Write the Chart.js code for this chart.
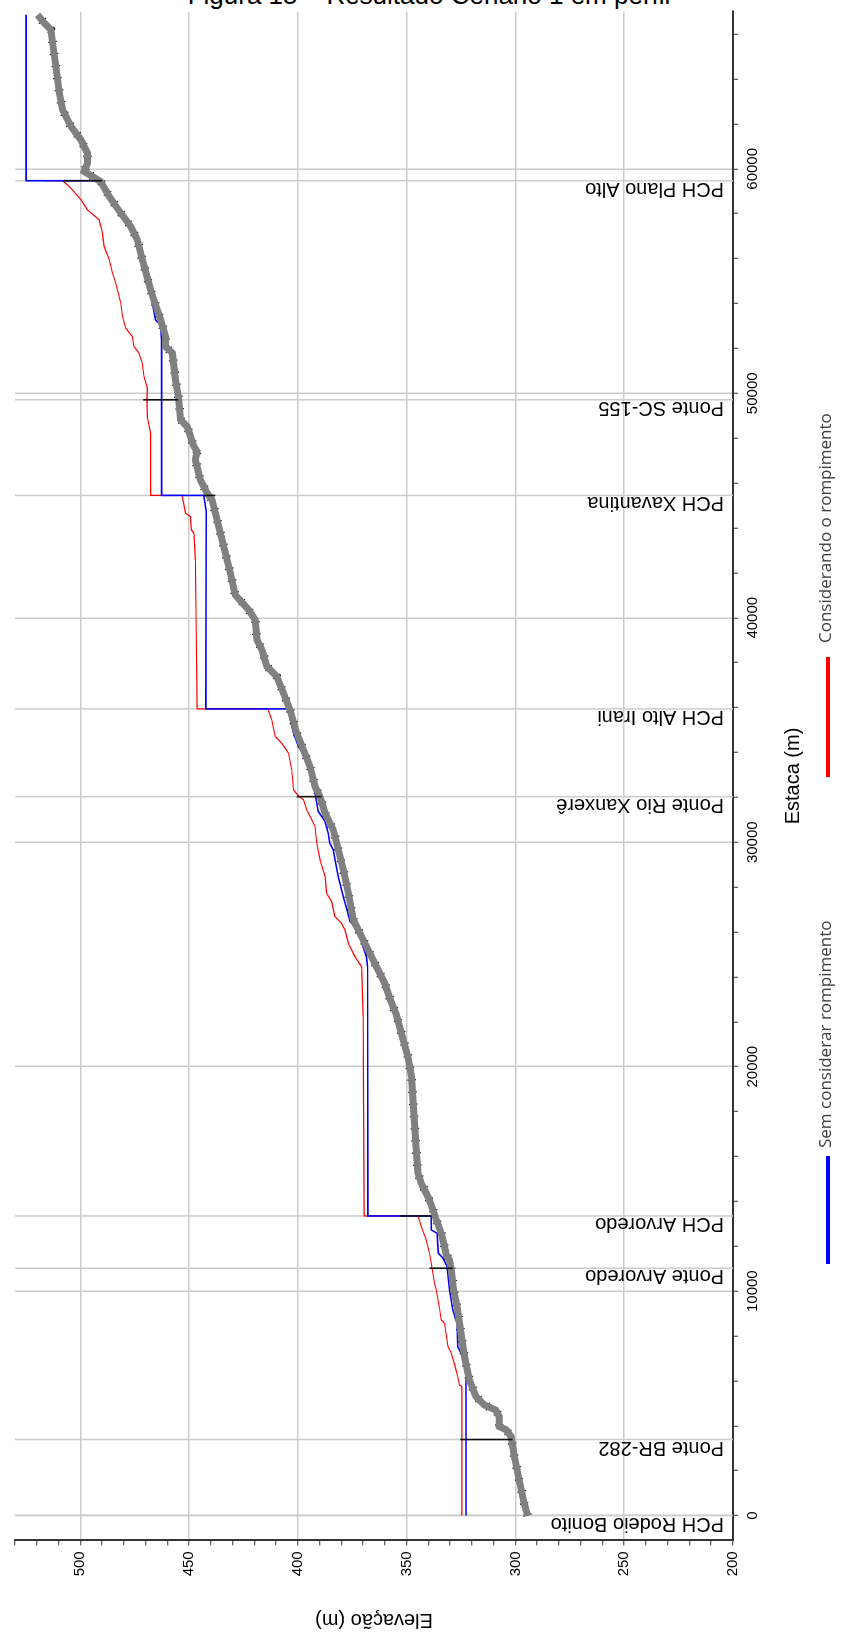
<!DOCTYPE html>
<html lang="pt-BR">
<head>
<meta charset="utf-8">
<title>Resultado Cenário 1 em perfil</title>
<script src="https://cdn.jsdelivr.net/npm/chart.js@4.4.1/dist/chart.umd.min.js"></script>
<style>
  html, body { margin: 0; padding: 0; background: #fff; }
  body { width: 841px; height: 1633px; overflow: hidden; position: relative; }
  #legenda-figura { position: absolute; left: 0; top: -18px; width: 858px; text-align: center;
    font: 26px/26px "Liberation Sans", Arial, sans-serif; color: #000; white-space: nowrap; }
  #perfil { position: absolute; left: 0; top: 0; width: 1633px; height: 841px;
    transform-origin: 0 0; transform: translateY(1633px) rotate(-90deg); }
  #perfil canvas { position: absolute; left: 0; top: 0; }
  .leg-linha { position: absolute; top: 826px; height: 4px; }
  .leg-texto { position: absolute; top: 815px; font: 17px/20px "Open Sans", sans-serif; color: #404040; white-space: nowrap; }
</style>
</head>
<body>
<div id="legenda-figura">Figura 15 – Resultado Cenário 1 em perfil</div>
<div id="perfil">
  <canvas id="grafico" width="1633" height="841"></canvas>
  <div class="leg-linha" style="left:369px;width:108px;background:#0000ff"></div>
  <div class="leg-texto" style="left:485px">Sem considerar rompimento</div>
  <div class="leg-linha" style="left:856px;width:120px;background:#ff0000"></div>
  <div class="leg-texto" style="left:990px">Considerando o rompimento</div>
</div>
<script>
// marcas do eixo de estacas (rotulo so nos multiplos de 10000)
const estacaTicks = [0, 2000, 4000, 6000, 8000, 10000, 12000, 14000, 16000, 18000, 20000, 22000, 24000, 26000,
  28000, 30000, 32000, 34000, 36000, 38000, 40000, 42000, 44000, 46000, 48000, 50000, 52000, 54000, 56000,
  58000, 60000, 62000, 64000, 66000];

// terreno (fundo do rio)
const terrenoEstaca = [0, 550, 1590, 2630, 3520, 3820, 3970, 4410, 4700, 4830, 4930, 5300, 6050, 7080, 8570, 9310,
  10060, 10950, 11390, 11620, 11990, 12580, 13180, 13620, 14210, 14810, 15260, 16290, 17330, 18520, 19560, 20450,
  21490, 22310, 22900, 23720, 24460, 25200, 25950, 26540, 27730, 28770, 29660, 30550, 31290, 32030, 32480, 33370,
  34110, 34860, 35900, 36640, 37380, 37830, 38570, 39020, 39910, 40350, 41020, 41990, 43460, 44660, 45250, 45550,
  46140, 47040, 47410, 47630, 48520, 48820, 49710, 50600, 51790, 52080, 52530, 53270, 54610, 55950, 56840, 57430,
  58030, 58770, 59430, 59660, 59880, 60250, 60700, 61290, 61890, 62630, 63370, 64560, 65600, 66190, 66490, 66860];
const terrenoElev = [294.4, 296.0, 298.3, 300.5, 302.0, 304.3, 307.4, 307.4, 309.0, 312.0, 314.3, 318.1, 321.2, 323.4, 325.7, 326.8,
  328.4, 329.5, 330.3, 331.8, 332.6, 334.1, 336.4, 337.9, 340.2, 343.3, 344.8, 345.6, 346.3, 347.1, 347.8, 349.4,
  352.4, 354.7, 357.2, 360.1, 363.9, 367.7, 371.5, 374.5, 376.8, 379.1, 381.4, 383.7, 387.5, 389.8, 392.1, 394.4,
  397.4, 400.5, 403.6, 406.6, 409.7, 414.2, 416.5, 418.8, 419.6, 422.6, 428.8, 431.0, 434.8, 437.9, 439.4, 441.7,
  444.8, 447.1, 446.3, 447.8, 450.9, 453.9, 454.7, 456.2, 457.7, 460.8, 460.8, 463.1, 467.7, 471.5, 473.8, 476.8,
  481.4, 486.7, 490.6, 494.4, 498.2, 496.7, 496.7, 499.7, 504.3, 508.1, 509.6, 511.2, 512.7, 513.5, 516.5, 519.6];

// nivel d'agua sem considerar rompimento
const semEstaca = [0, 6340, 7080, 7530, 8570, 9170, 10060, 11090, 11470, 11690, 12580, 12730, 13350, 13350, 24460,
  24910, 25800, 26540, 27580, 28470, 29290, 29660, 29960, 30400, 30920, 31370, 32180, 33220, 33820, 34260, 34860,
  35940, 35940, 44730, 45450, 45450, 52380, 53050, 53270, 54460, 55350, 56240, 57140, 57580, 58030, 58620, 59470,
  59470, 66860];
const semElev = [322.7, 322.7, 324.2, 326.5, 326.8, 328.8, 330.3, 331.4, 333.3, 335.4, 336.0, 338.7, 338.7, 367.8, 368.0,
  368.5, 371.5, 376.1, 379.1, 381.4, 383.0, 383.7, 385.3, 386.0, 387.5, 390.6, 392.1, 394.4, 396.7, 399.7, 402.0,
  404.6, 442.3, 442.1, 443.2, 462.6, 462.6, 463.1, 465.4, 467.7, 470.0, 472.3, 474.5, 477.6, 480.6, 485.2, 489.8,
  524.9, 524.9];

// nivel d'agua considerando o rompimento
const comEstaca = [0, 5750, 5820, 6190, 6640, 7240, 7530, 8570, 8720, 9240, 10060, 10350, 11250, 11690, 12280, 12880,
  13350, 13350, 22230, 24460, 24910, 25500, 26100, 26390, 26690, 27360, 27730, 28470, 29210, 29960, 30700, 31000,
  31440, 31890, 32060, 32330, 33220, 33970, 34410, 34710, 35450, 35940, 35940, 40210, 42580, 43770, 43920, 44510,
  44660, 45450, 45450, 48220, 48960, 49710, 50230, 50750, 51340, 51790, 52080, 52530, 52900, 53420, 54020, 54910,
  55350, 55950, 56540, 57140, 57730, 58170, 58620, 59140, 59470, 59470];
const comElev = [324.6, 324.6, 325.7, 326.5, 327.7, 329.5, 331.0, 332.6, 334.1, 334.9, 336.4, 337.2, 338.7, 339.5, 341.0, 343.3,
  344.8, 369.5, 370.0, 370.7, 373.8, 376.8, 378.4, 379.9, 383.0, 384.5, 386.8, 387.5, 389.8, 391.3, 392.1, 393.6,
  395.9, 397.4, 399.7, 402.0, 402.8, 404.3, 407.4, 410.4, 412.0, 413.8, 446.3, 446.8, 447.1, 447.8, 448.9, 449.4,
  451.6, 453.2, 467.7, 467.7, 469.2, 469.4, 469.2, 470.7, 471.5, 473.0, 475.3, 476.1, 479.1, 480.6, 481.4, 483.7,
  485.2, 486.7, 489.0, 489.8, 491.3, 496.7, 499.7, 504.3, 508.1, 516.5];

// estruturas (pontes e barragens)
const estruturaNome = ['PCH Rodeio Bonito', 'Ponte BR-282', 'Ponte Arvoredo', 'PCH Arvoredo', 'Ponte Rio Xanxerê',
  'PCH Alto Irani', 'PCH Xavantina', 'Ponte SC-155', 'PCH Plano Alto'];
const estruturaEstaca = [0, 3390, 11020, 13350, 32030, 35940, 45450, 49710, 59470];

// trechos pretos das estruturas
const obraEstaca = [3390, 11020, 13350, 32030, 45450, 49710, 59470];
const obraBase = [301.3, 328.8, 338.7, 389.0, 438.0, 455.0, 490.0];
const obraTopo = [325.4, 339.5, 353.0, 400.5, 443.5, 471.0, 508.0];

const fonte = '"Liberation Sans", Arial, sans-serif';
const cinzaGrade = '#cccccc';

function pares(xs, ys) {
  return xs.map((x, i) => ({ x: x, y: ys[i] }));
}

const obras = [];
obraEstaca.forEach((e, i) => {
  obras.push({ x: e, y: obraBase[i] }, { x: e, y: obraTopo[i] }, { x: e, y: null });
});

const estruturas = {
  id: 'estruturas',
  beforeDatasetsDraw(chart) {
    const { ctx, chartArea, scales: { x } } = chart;
    ctx.save();
    ctx.strokeStyle = cinzaGrade;
    ctx.lineWidth = 1.5;
    estruturaEstaca.forEach(e => {
      const px = x.getPixelForValue(e);
      ctx.beginPath();
      ctx.moveTo(px, chartArea.top);
      ctx.lineTo(px, chartArea.bottom);
      ctx.stroke();
    });
    ctx.fillStyle = '#000';
    ctx.font = '20px ' + fonte;
    ctx.textAlign = 'left';
    ctx.textBaseline = 'alphabetic';
    estruturaEstaca.forEach((e, i) => {
      const px = x.getPixelForValue(e);
      ctx.save();
      ctx.translate(px - 2, chartArea.bottom - 9);
      ctx.rotate(-Math.PI / 2);
      ctx.fillText(estruturaNome[i], 0, 0);
      ctx.restore();
    });
    ctx.restore();
  }
};

new Chart(document.getElementById('grafico'), {
  type: 'scatter',
  data: {
    datasets: [
      { label: 'Considerando o rompimento', data: pares(comEstaca, comElev), showLine: true,
        borderColor: '#ff0000', borderWidth: 1.2, order: 8 },
      { label: 'Sem considerar rompimento', data: pares(semEstaca, semElev), showLine: true,
        borderColor: '#0000ff', borderWidth: 1.6, order: 7 },
      { label: 'Terreno (pontos)', data: pares(terrenoEstaca, terrenoElev), showLine: true,
        borderColor: '#000', borderWidth: 8.6, borderDash: [1.2, 11], order: 6 },
      { label: 'Terreno', data: pares(terrenoEstaca, terrenoElev), showLine: true,
        borderColor: '#808080', borderWidth: 7, order: 5 },
      { label: 'Estruturas', data: obras, showLine: true, spanGaps: false,
        borderColor: '#111', borderWidth: 1.6, order: 1 }
    ]
  },
  options: {
    responsive: false,
    animation: false,
    events: [],
    layout: { padding: { top: 11.7, right: 11.7, bottom: 36, left: 0 } },
    plugins: { legend: { display: false }, tooltip: { enabled: false } },
    elements: { point: { radius: 0, hoverRadius: 0 }, line: { tension: 0 } },
    scales: {
      x: {
        type: 'linear', min: -1100, max: 67000,
        afterBuildTicks: s => { s.ticks = estacaTicks.map(v => ({ value: v })); },
        afterFit: s => { s.height = 72; },
        border: { display: true, color: '#333', width: 2 },
        grid: {
          color: c => (c.tick && c.tick.value % 10000 === 0) ? cinzaGrade : 'rgba(0,0,0,0)',
          lineWidth: 1.5, tickLength: 5, tickColor: '#333', tickWidth: 1
        },
        ticks: {
          autoSkip: false, maxRotation: 0, padding: 6,
          color: '#000', font: { family: fonte, size: 15 },
          callback: v => v % 10000 === 0 ? String(v) : ''
        },
        title: { display: true, text: 'Estaca (m)', color: '#000', font: { family: fonte, size: 20 },
          padding: { top: 0, bottom: 0 } }
      },
      y: {
        type: 'linear', min: 200, max: 530,
        afterFit: s => { s.width = 92.7; },
        border: { display: true, color: '#333', width: 2 },
        grid: {
          color: c => (c.tick && c.tick.value % 50 === 0) ? cinzaGrade : 'rgba(0,0,0,0)',
          lineWidth: 1.5, tickLength: 5, tickColor: '#333', tickWidth: 1
        },
        ticks: {
          stepSize: 10, autoSkip: false, includeBounds: false, padding: 6,
          color: '#000', font: { family: fonte, size: 15 },
          callback: v => v % 50 === 0 ? String(v) : ''
        },
        title: { display: true, text: 'Elevação (m)', color: '#000', font: { family: fonte, size: 20 },
          padding: { top: 1, bottom: 0 } }
      }
    }
  },
  plugins: [estruturas]
});
</script>
</body>
</html>
